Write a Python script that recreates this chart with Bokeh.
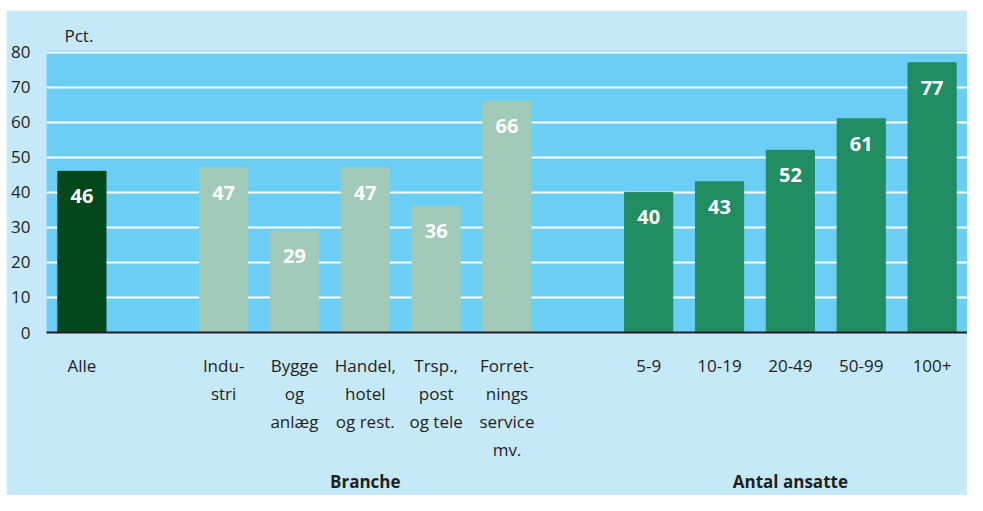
from bokeh.plotting import figure
from bokeh.models import FixedTicker, ColumnDataSource, Range1d, LinearAxis, Spacer
from bokeh.layouts import column, row
from bokeh.core.properties import value
from bokeh.embed import file_html
from bokeh.resources import INLINE

# ---- data ----
categories = ["Alle", "Indu-\nstri", "Bygge\nog\nanlæg", "Handel,\nhotel\nog rest.",
              "Trsp.,\npost\nog tele", "Forret-\nnings\nservice\nmv.",
              "5-9", "10-19", "20-49", "50-99", "100+"]
slots = [0, 2, 3, 4, 5, 6, 8, 9, 10, 11, 12]
values = [46, 47, 29, 47, 36, 66, 40, 43, 52, 61, 77]
groups = ["alle", "branche", "branche", "branche", "branche", "branche",
          "ansatte", "ansatte", "ansatte", "ansatte", "ansatte"]
group_keys = ["branche", "ansatte"]
group_titles = ["Branche", "Antal ansatte"]
y_ticks = [0, 10, 20, 30, 40, 50, 60, 70, 80]
unit_label = "Pct."

# ---- style ----
group_colors = {"alle": "#00481b", "branche": "#a1cab8", "ansatte": "#228c63"}
outer_bg = "#c6e9f9"
plot_bg = "#6acef5"
text_col = "#231f20"
font = "Open Sans"

src = ColumnDataSource(dict(
    x=slots, top=values, label=[str(v) for v in values],
    color=[group_colors[g] for g in groups],
))

p = figure(width=961, height=485, output_backend="svg", toolbar_location=None,
           x_range=Range1d(-0.5, 12.5), y_range=Range1d(0, 80.5),
           min_border_left=40, min_border_right=0, min_border_top=40,
           min_border_bottom=163, title=unit_label)
p.background_fill_color = plot_bg
p.border_fill_color = outer_bg
p.outline_line_color = None

p.title.text_font = font
p.title.text_font_size = "17px"
p.title.text_font_style = "normal"
p.title.text_color = text_col
p.title.align = "left"
p.title.offset = 18
p.title.standoff = 8

p.vbar(x="x", top="top", bottom=0, width=0.68, color="color", source=src)
p.text(x="x", y="top", text="label", source=src, text_align="center",
       text_baseline="middle", y_offset=25, text_color="white",
       text_font_size="20px", text_font_style="bold", text_font=value(font))

# grid
p.xgrid.visible = False
p.ygrid.ticker = FixedTicker(ticks=y_ticks)
p.ygrid.grid_line_color = "white"
p.ygrid.grid_line_width = 2

# y axis
p.yaxis.ticker = FixedTicker(ticks=y_ticks)
p.yaxis.axis_line_color = None
p.yaxis.major_tick_line_color = None
p.yaxis.minor_tick_line_color = None
p.yaxis.major_label_standoff = 10
p.yaxis.major_label_text_font = font
p.yaxis.major_label_text_font_size = "17px"
p.yaxis.major_label_text_color = text_col

# category axis
p.xaxis.ticker = FixedTicker(ticks=slots)
p.xaxis.major_label_overrides = {s: c for s, c in zip(slots, categories)}
p.xaxis.axis_line_color = text_col
p.xaxis.axis_line_width = 2
p.xaxis.major_tick_line_color = None
p.xaxis.minor_tick_line_color = None
p.xaxis.major_label_standoff = 15
p.xaxis.major_label_text_font = font
p.xaxis.major_label_text_font_size = "17px"
p.xaxis.major_label_text_color = text_col
p.xaxis.major_label_text_line_height = 1.22

# group title axis
group_centers = []
for key in group_keys:
    xs = [s for s, g in zip(slots, groups) if g == key]
    group_centers.append(sum(xs) / len(xs))
gaxis = LinearAxis(ticker=FixedTicker(ticks=group_centers),
                   major_label_overrides={c: t for c, t in zip(group_centers, group_titles)})
gaxis.axis_line_color = None
gaxis.major_tick_line_color = None
gaxis.minor_tick_line_color = None
gaxis.major_label_standoff = 0
gaxis.major_label_text_font = font
gaxis.major_label_text_font_size = "17px"
gaxis.major_label_text_font_style = "bold"
gaxis.major_label_text_color = text_col
p.add_layout(gaxis, "below")

layout = column(Spacer(height=10, width=967),
                row(Spacer(width=6, height=485), p))

open("out.html", "w").write(file_html(layout, INLINE))
